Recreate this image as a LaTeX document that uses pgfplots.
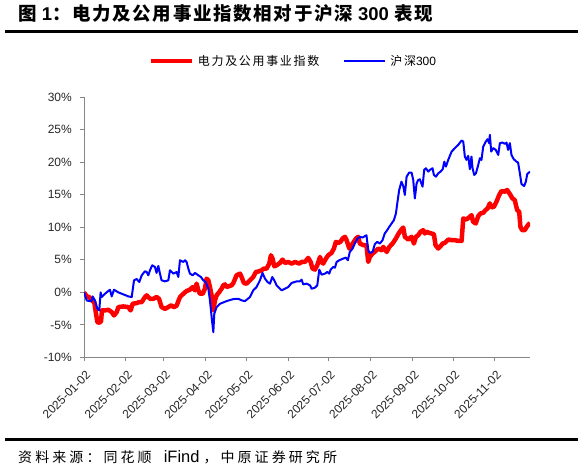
\documentclass[border=0pt]{standalone}
\usepackage{fontspec}
\setmainfont{Liberation Sans}
\newfontfamily\cjktitle{Noto Sans CJK SC}[LetterSpace=9]
\newfontfamily\cjkleg{Noto Sans CJK SC}[LetterSpace=14]
\newfontfamily\cjksrc{Noto Sans CJK SC}[LetterSpace=22]
\usepackage{pgfplots}
\pgfplotsset{compat=1.18}
\definecolor{idxred}{RGB}{255,0,0}
\definecolor{idxblue}{RGB}{0,0,255}
\definecolor{axisgray}{RGB}{134,134,134}

% x = calendar days after 2025-01-02, y = cumulative change in %
\pgfplotstableread{
day val
0 0
2.0 -0.62
3.9 -0.72
5.7 -1.23
7.6 -1.49
8.9 -3.29
9.9 -4.57
11.3 -4.67
12.6 -4.42
13.3 -2.77
15.5 -2.77
18.0 -2.67
20.5 -3.03
22.2 -3.54
24.2 -3.03
25.4 -2.26
29.1 -2.16
32.8 -2.26
34.5 -2.77
36.0 -1.75
39.0 -1.64
40.9 -1.49
42.7 -1.49
45.1 -0.72
46.4 -0.46
48.8 -0.98
51.3 -0.98
53.7 -0.72
55.5 -0.98
57.4 -2.26
59.9 -2.52
62.4 -2.26
64.3 -2.00
66.6 -2.26
68.5 -2.05
71.0 -0.72
73.5 -0.21
75.9 0.21
78.4 0.41
80.4 0.82
82.1 0.31
83.3 1.34
84.6 0.31
85.8 -0.21
87.8 -0.21
89.5 0.56
90.7 2.11
92.0 1.85
93.2 0.82
94.4 -0.46
95.7 -2.77
96.9 -1.23
98.1 -0.46
100.1 0.05
101.8 0.56
103.1 1.08
104.3 1.23
105.5 0.82
106.8 0.92
109.2 1.08
110.5 1.44
112.9 2.62
115.4 2.88
116.6 2.36
118.3 1.44
120.3 1.34
122.8 1.85
125.2 2.36
127.2 3.13
129.7 3.24
131.4 3.39
133.1 3.65
135.1 3.65
137.1 4.42
138.3 5.70
139.5 5.19
140.8 4.01
142.5 4.16
145.0 4.52
146.9 5.03
148.7 4.52
151.1 4.67
153.6 4.42
156.1 4.67
159.3 4.42
161.0 4.67
163.5 4.67
165.9 5.29
167.7 4.67
169.1 3.65
170.9 3.49
172.6 4.16
174.6 5.44
175.8 4.67
177.0 4.42
179.0 5.19
180.7 5.70
183.2 6.06
184.9 6.73
186.4 7.76
188.1 7.60
189.8 7.76
191.3 8.27
193.1 8.53
194.3 8.01
196.3 6.73
198.0 7.24
199.7 7.76
201.2 8.27
202.9 8.53
204.1 7.50
206.6 7.24
209.0 7.24
210.3 4.67
211.5 5.44
213.5 5.96
216.0 6.37
217.7 6.73
220.2 6.47
221.4 6.98
224.0 6.21
225.9 6.98
228.3 7.50
230.8 8.27
232.5 8.94
234.5 9.55
236.2 9.96
237.4 8.53
239.9 8.11
242.4 8.53
244.1 7.50
245.6 8.53
247.3 8.78
249.0 9.30
251.0 9.55
252.2 9.04
253.5 9.30
255.5 9.14
257.1 9.04
258.9 8.94
260.1 7.24
262.1 6.73
263.8 7.09
265.4 7.50
267.0 7.60
269.5 8.11
272.0 8.01
274.4 8.01
276.9 7.91
279.4 7.91
280.6 11.35
283.0 11.20
285.5 11.61
286.7 11.86
287.9 10.84
289.9 10.58
291.7 11.71
293.4 12.12
295.4 12.22
297.1 12.63
298.6 12.89
300.3 13.66
301.5 13.05
303.3 13.15
305.2 13.92
307.2 14.95
308.9 15.56
311.4 15.46
313.1 15.72
315.1 15.10
317.0 14.43
318.7 14.18
320.5 12.63
322.0 12.38
322.9 10.07
324.2 9.55
326.1 9.55
327.9 10.17
330.0 10.68
}\utility

\pgfplotstableread{
day val
0 0
2.0 -1.23
3.2 -1.30
5.7 -1.30
6.4 -0.62
8.1 -1.23
9.9 -2.52
11.3 -2.77
12.3 0
13.1 -0.72
15.5 -0.21
19.2 0.41
20.5 -0.62
22.2 0.41
25.4 0
29.1 -0.31
32.8 -0.62
35.3 -0.72
37.0 1.85
39.0 2.05
40.9 1.59
42.7 2.62
45.1 3.24
46.4 3.13
47.6 2.62
48.8 3.39
50.5 4.16
52.5 3.90
53.7 2.98
55.0 4.06
56.2 2.88
57.4 1.85
59.9 1.69
62.4 1.85
63.6 3.39
66.1 2.88
68.5 3.13
69.8 2.36
71.0 4.93
73.5 4.67
74.7 4.93
75.9 4.67
77.2 3.65
78.4 2.88
80.4 2.62
82.1 2.98
84.6 2.62
86.5 2.36
88.3 1.85
90.0 1.59
92.0 0.56
93.2 -1.23
94.7 -4.31
95.7 -6.11
96.4 -3.29
98.1 -2.26
100.6 -1.75
105.5 -1.34
110.5 -1.03
114.2 -0.98
116.6 -1.23
119.1 -1.34
122.8 -0.72
125.2 0.31
127.7 0.82
130.2 1.85
132.1 2.98
133.9 2.11
135.8 1.59
137.6 1.34
139.3 2.36
140.8 1.85
142.5 1.08
145.0 0.56
146.2 0.31
148.7 0.56
151.1 0.82
153.6 1.44
157.3 1.69
159.8 1.69
161.0 1.95
162.2 1.23
164.7 1.34
167.2 1.08
168.4 0.56
170.9 0.72
172.6 1.08
174.1 3.49
175.8 2.72
178.3 2.88
180.0 3.13
181.5 2.88
182.5 3.49
184.4 3.90
185.7 3.80
186.9 4.67
188.9 4.93
191.8 5.19
193.8 5.34
195.2 4.93
196.7 6.21
198.7 6.73
200.4 7.50
202.4 8.27
204.1 8.53
206.1 8.42
207.8 8.63
209.0 8.78
210.3 6.47
211.5 6.06
213.5 6.21
215.2 7.40
217.0 7.76
218.9 7.50
220.9 8.01
222.5 9.04
224.0 9.45
225.9 10.07
227.6 10.58
229.3 11.09
230.8 12.12
231.8 13.66
233.2 15.72
234.9 17.00
236.2 16.33
237.4 14.95
238.7 17.77
240.6 18.39
242.4 18.39
243.6 17.26
244.8 14.43
246.1 16.74
247.3 17.26
248.5 17.36
250.5 16.23
251.7 18.80
253.0 19.06
254.7 18.54
255.9 18.80
257.9 19.06
258.9 18.03
260.4 17.77
262.1 18.28
263.8 18.54
265.4 18.90
266.6 20.08
267.8 19.31
269.5 20.34
272.0 21.62
274.4 22.14
276.9 22.65
279.4 23.32
280.6 23.16
281.8 20.85
283.0 20.34
284.3 20.96
285.5 18.90
286.7 20.85
287.5 19.06
288.7 18.03
290.0 18.28
291.7 19.57
292.9 20.60
294.1 20.34
295.4 22.39
297.3 23.16
298.6 23.52
299.8 22.91
300.3 24.19
301.3 21.62
302.8 22.14
304.7 21.88
306.5 21.11
307.7 22.91
309.7 23.01
311.4 22.80
312.6 23.01
313.8 21.88
315.1 22.91
316.3 21.11
318.0 20.44
320.0 20.08
321.2 19.93
322.5 18.28
323.7 16.64
325.7 16.33
326.9 17.00
328.0 18.18
330.0 18.54
}\hsthree

\begin{document}
\begin{tikzpicture}
\useasboundingbox (0,0) rectangle (581pt,473pt);
% title and source
\node[anchor=base west, inner sep=0pt] at (18pt,452pt)
  {\bfseries\fontsize{18.5}{20}\selectfont{\cjktitle 图} 1{\cjktitle ：电力及公用事业指数相对于沪深} 300 {\cjktitle 表现}};
\draw[line width=3pt] (5pt,441.3pt) -- (578pt,441.3pt);
\draw[line width=3pt] (5pt,33pt) -- (578pt,33pt);
\node[anchor=base west, inner sep=0pt] at (18pt,10.5pt)
  {\cjksrc\fontsize{14}{16}\selectfont 资料来源：同花顺\hspace{12pt}{\normalfont\fontsize{16.5}{16}\selectfont iFind}\hspace{4pt}，中原证券研究所};

\begin{axis}[
  at={(84pt,115.5pt)}, anchor=south west,
  scale only axis, width=446pt, height=260.5pt,
  xmin=0, xmax=330, ymin=-10, ymax=30,
  axis x line*=bottom, axis y line*=left,
  axis line style={-, draw=axisgray, line width=0.9pt},
  tick align=outside, major tick length=4pt,
  tick style={draw=axisgray, line width=0.9pt},
  xtick={0,31,59,90,120,151,181,212,243,273,304},
  xticklabels={2025-01-02,2025-02-02,2025-03-02,2025-04-02,2025-05-02,2025-06-02,2025-07-02,2025-08-02,2025-09-02,2025-10-02,2025-11-02},
  ytick={-10,-5,0,5,10,15,20,25,30},
  yticklabels={-10\%,-5\%,0\%,5\%,10\%,15\%,20\%,25\%,30\%},
  tick label style={font=\fontsize{12}{12}\selectfont, text=black!85},
  xticklabel shift=11pt,
  x tick label style={xshift=5pt, rotate=45, anchor=east, inner sep=1pt},
  y tick label style={inner sep=1pt, xshift=-7pt},
  legend columns=2,
  legend style={at={(0.144,1.139)}, anchor=west, draw=none, fill=none,
    inner sep=0pt, font=\cjkleg\fontsize{12}{14}\selectfont,
    nodes={inner sep=0pt},
    /tikz/every odd column/.append style={column sep=4pt},
    /tikz/every even column/.append style={column sep=24pt}},
  legend image code/.code={\draw[#1] (0pt,0pt) -- (41pt,0pt);},
]
\addplot[idxred, line width=4.5pt, line join=round] table[x=day, y=val] {\utility};
\addlegendentry{电力及公用事业指数}
\addplot[idxblue, line width=2pt, line join=round] table[x=day, y=val] {\hsthree};
\addlegendentry{沪深{\normalfont 300}}
\end{axis}
\end{tikzpicture}
\end{document}
